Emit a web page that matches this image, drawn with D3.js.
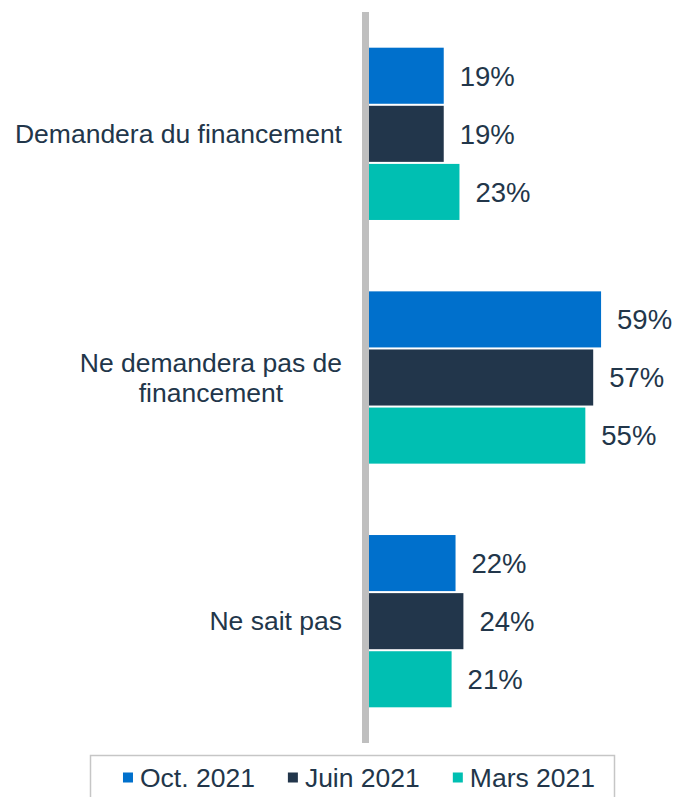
<!DOCTYPE html>
<html>
<head>
<meta charset="utf-8">
<script src="https://cdn.jsdelivr.net/npm/d3@7"></script>
<style>
  html, body { margin: 0; padding: 0; background: #fff; }
  svg { display: block; font-family: "Liberation Sans", Arial, sans-serif; }
</style>
</head>
<body>
<svg id="chart" width="680" height="797"></svg>
<script>
// Financing intentions, three survey waves

const categories = ["Demandera du financement", "Ne demandera pas de financement", "Ne sait pas"];
const seriesNames = ["Oct. 2021", "Juin 2021", "Mars 2021"];
const octValues = [19, 59, 22];
const juinValues = [19, 57, 24];
const marsValues = [23, 55, 21];
const seriesColors = ["#0070cc", "#22364b", "#00bfb2"];

const series = [octValues, juinValues, marsValues];
const textColor = "#22364a";

const svg = d3.select("#chart");

// -- scales --
const y = d3.scaleBand()
  .domain(categories)
  .range([12, 743])
  .paddingInner(0.293)
  .paddingOuter(0.1465);

const ySub = d3.scaleBand()
  .domain(seriesNames)
  .range([0, y.bandwidth()])
  .paddingInner(0.035);

const x = d3.scaleLinear()
  .domain([0, 60])
  .range([369, 605]);

// -- bars + value labels --
const groups = svg.selectAll("g.cat")
  .data(categories)
  .join("g")
  .attr("class", "cat")
  .attr("transform", d => `translate(0,${y(d)})`);

groups.each(function(cat, ci) {
  const g = d3.select(this);
  const rows = seriesNames.map((s, si) => ({ s, si, v: series[si][ci] }));

  g.selectAll("rect")
    .data(rows)
    .join("rect")
    .attr("x", x(0))
    .attr("y", d => ySub(d.s))
    .attr("width", d => x(d.v) - x(0))
    .attr("height", ySub.bandwidth())
    .attr("fill", d => seriesColors[d.si]);

  g.selectAll("text.val")
    .data(rows)
    .join("text")
    .attr("class", "val")
    .attr("x", d => x(d.v) + 16)
    .attr("y", d => ySub(d.s) + ySub.bandwidth() / 2)
    .attr("dy", "0.36em")
    .attr("font-size", 27.5)
    .attr("fill", textColor)
    .text(d => d.v + "%");
});

// vertical axis line
svg.append("rect")
  .attr("x", 362).attr("y", 12)
  .attr("width", 7).attr("height", 731)
  .attr("fill", "#bfbfbf");

// -- category labels (wrapped, lines centred, block right aligned) --
const labelRight = 342;
const maxLabelW = 330;
const lineH = 29.5;
const labelSize = 26.5;

categories.forEach(cat => {
  const t = svg.append("text")
    .attr("font-size", labelSize)
    .attr("fill", textColor)
    .attr("text-anchor", "middle");

  // word wrap by measured width
  const words = cat.split(" ");
  const lines = [];
  let cur = [];
  const probe = svg.append("text").attr("font-size", labelSize);
  words.forEach(w => {
    const test = cur.concat(w).join(" ");
    probe.text(test);
    if (probe.node().getComputedTextLength() > maxLabelW && cur.length) {
      lines.push(cur.join(" "));
      cur = [w];
    } else {
      cur.push(w);
    }
  });
  lines.push(cur.join(" "));
  const widths = lines.map(l => { probe.text(l); return probe.node().getComputedTextLength(); });
  probe.remove();

  const blockW = d3.max(widths);
  const cx = labelRight - blockW / 2;
  const cy = y(cat) + y.bandwidth() / 2;
  const firstY = cy - (lines.length - 1) * lineH / 2;

  lines.forEach((l, i) => {
    t.append("tspan")
      .attr("x", cx)
      .attr("y", firstY + i * lineH)
      .attr("dy", "0.35em")
      .text(l);
  });
});

// -- legend --
const legend = svg.append("g");
legend.append("rect")
  .attr("x", 90.5).attr("y", 755.5)
  .attr("width", 524).attr("height", 60)
  .attr("fill", "#fff")
  .attr("stroke", "#c6c6c6")
  .attr("stroke-width", 1.5);

const sw = 10, swGap = 7, itemGap = 33;
const items = legend.selectAll("g.item")
  .data(seriesNames)
  .join("g")
  .attr("class", "item");

items.append("rect")
  .attr("width", sw).attr("height", sw)
  .attr("y", 772.5)
  .attr("fill", (d, i) => seriesColors[i]);

items.append("text")
  .attr("x", sw + swGap)
  .attr("y", 786.5)
  .attr("font-size", 26.5)
  .attr("fill", textColor)
  .text(d => d);

const itemW = [];
items.each(function() {
  itemW.push(sw + swGap + d3.select(this).select("text").node().getComputedTextLength());
});
const totalW = d3.sum(itemW) + itemGap * (itemW.length - 1);
let lx = 359 - totalW / 2;
items.each(function(d, i) {
  d3.select(this).attr("transform", `translate(${lx},0)`);
  lx += itemW[i] + itemGap;
});
</script>
</body>
</html>
